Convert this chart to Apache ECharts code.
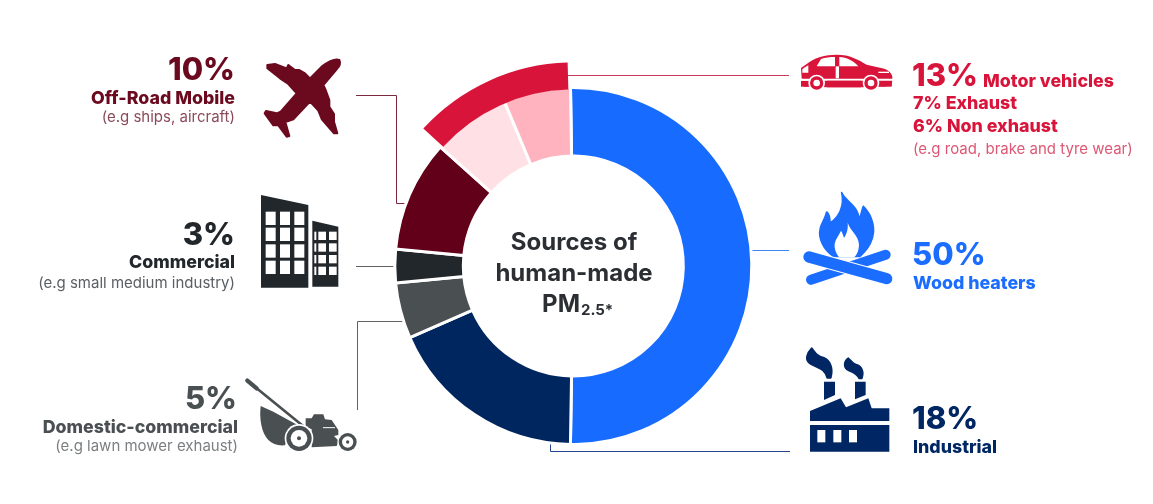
<!DOCTYPE html>
<html>
<head>
<meta charset="utf-8">
<style>html,body{margin:0;padding:0;background:#fff}#chart{width:1153px;height:504px}</style>
<script src="https://cdn.jsdelivr.net/npm/echarts@6/dist/echarts.min.js"></script>
</head>
<body>
<div id="chart"></div>
<script>
// Share of human-made PM2.5, in percent, clockwise from the top of the ring
const sources = ['Wood heaters', 'Industrial', 'Domestic-commercial', 'Commercial', 'Off-Road Mobile', 'Exhaust', 'Non exhaust'];
const shares = [50, 18, 5, 3, 10, 7, 6];
const sliceColors = ['#176cff', '#00265f', '#4a4f52', '#22272b', '#620019', '#ffe0e5', '#ffb3bf'];
const motorVehicles = 13;
const otherSources = 86;

const FONT = 'Inter, "Noto Sans", sans-serif';
const ink = { wood: '#1a6dff', ind: '#002664', car: '#d9143a', carSoft: '#dd5874', off: '#6b0a1f', offSoft: '#8b4a5b',
  com: '#22272b', comSoft: '#5a5f63', dom: '#4a4f52', domSoft: '#7b7f82' };
const BIG = 31, HEAD = 17.8, NOTE = 15;

function label(text, x, y, size, weight, fill, align) {
  return { type: 'text', x, y, silent: true, style: { text, fill, align: align || 'left', verticalAlign: 'middle',
    font: `${weight} ${size}px ${FONT}` } };
}
function leader(points, stroke) {
  return { type: 'polyline', silent: true, shape: { points }, style: { stroke, lineWidth: 1, fill: 'none' } };
}
// Icons are authored at 3x and placed with a translate and a 1/3 scale
function icon(x, y, children) {
  return { type: 'group', x, y, scaleX: 1 / 3, scaleY: 1 / 3, silent: true, children };
}
let shapeCount = 0;
function path(d, fill, outline) {
  const name = 'iconShape' + shapeCount++;
  echarts.graphic.registerShape(name, echarts.graphic.extendPath(d));
  const style = { fill };
  if (outline) {
    style.stroke = fill;
    style.lineWidth = outline;
    style.lineJoin = 'round';
  }
  return { type: name, style };
}
function bar(x, y, w, h, fill) {
  return { type: 'rect', shape: { x, y, width: w, height: h }, style: { fill } };
}
function disc(cx, cy, r, fill) {
  return { type: 'circle', shape: { cx, cy, r }, style: { fill } };
}
function stroke(x1, y1, x2, y2, width, color) {
  return { type: 'line', shape: { x1, y1, x2, y2 }, style: { stroke: color, lineWidth: width, lineCap: 'round' } };
}

const plane = icon(260, 50, [path(
  'M238,30 C243,40 238,50 230,58 L190,105 L197,120 L208,150 L208,170 L222,192 L222,215 L232,250 L222,250 L185,207 L175,182 L150,155 ' +
  'L100,208 L76,216 L88,258 L80,260 L55,226 L40,226 L14,190 L18,183 L50,190 L62,185 L110,130 L85,102 L60,85 L22,55 L22,45 L45,42 L80,55 L85,45 ' +
  'L105,60 L118,60 L135,70 L150,85 L185,50 C205,35 225,25 238,30 Z', ink.off, 6)]);

const buildingWindows = [];
[65, 113, 163, 212].forEach(y => [32, 75, 118].forEach(x => buildingWindows.push(bar(x, y, 30, 40, '#fff'))));
[125, 160, 195, 230].forEach(y => {
  [190, 222].forEach(x => buildingWindows.push(bar(x, y, 23, 25, '#fff')));
  buildingWindows.push(bar(178, y, 6, 25, '#fff'));
});
const building = icon(255, 190, [
  path('M18,15 L160,45 L160,293 L18,293 Z', ink.com),
  path('M172,92 L250,110 L250,290 L172,290 Z', ink.com)
].concat(buildingWindows));

const mower = icon(240, 370, [
  stroke(50, 55, 192, 170, 8, ink.dom),
  stroke(22, 32, 50, 55, 13, ink.dom),
  path('M62,108 L100,125 L185,172 L150,178 L135,226 C95,230 72,205 64,165 C60,145 60,125 62,108 Z', ink.dom),
  path('M197,145 L215,145 L222,133 L250,133 L255,148 L275,150 L295,180 L295,195 L282,198 L296,212 L290,228 L215,232 L215,178 L197,170 Z', ink.dom),
  stroke(250, 173, 284, 173, 3, '#fff'),
  disc(177, 205, 43, '#fff'), disc(177, 205, 38, ink.dom), disc(177, 205, 25, '#fff'), disc(177, 205, 6, ink.dom),
  disc(323, 216, 31, '#fff'), disc(323, 216, 27, ink.dom), disc(323, 216, 17, '#fff'), disc(323, 216, 5, ink.dom)
]);

const car = icon(795, 48, [
  path('M20,92 L18,60 L32,50 C60,28 90,20 125,20 C165,20 190,35 215,50 L268,62 C288,70 294,82 292,95 L290,113 L262,116 L195,118 L100,118 L30,116 L18,112 L18,98 L50,98 Z', ink.car),
  path('M78,33 C90,29 105,27 120,27 L120,55 L65,55 Z', '#fff'),
  path('M133,27 C155,28 175,38 190,55 L133,55 Z', '#fff'),
  bar(122, 55, 10, 36, '#fff'),
  bar(15, 92, 290, 6, '#fff'),
  path('M30,58 L40,52 L40,74 L22,74 L22,64 Z', '#fff'),
  bar(250, 71, 32, 4, '#fff'),
  disc(65, 105, 25, '#fff'), disc(65, 105, 20, ink.car), disc(65, 105, 10, '#fff'),
  disc(228, 105, 25, '#fff'), disc(228, 105, 20, ink.car), disc(228, 105, 10, '#fff'),
  bar(18, 104, 20, 12, ink.car), bar(96, 98, 102, 20, ink.car), bar(260, 100, 30, 16, ink.car)
]);

const fire = icon(795, 188, [
  path('M140,14 C150,40 190,50 192,95 C200,80 200,65 205,55 C235,85 240,125 232,150 C225,175 210,190 195,205 L115,205 C85,185 70,150 75,125 C78,105 90,95 95,72 C105,80 105,95 105,105 C130,90 150,55 140,14 Z', ink.wood, 5),
  path('M158,104 C165,128 191,142 192,170 C192,185 187,198 178,208 L132,208 C122,195 117,180 119,167 C122,152 132,142 138,128 C142,134 145,142 147,150 C155,138 160,122 158,104 Z', '#fff'),
  stroke(48, 275, 272, 200, 30, ink.wood),
  stroke(42, 207, 275, 272, 40, '#fff'),
  stroke(42, 207, 275, 272, 34, ink.wood)
]);

const factory = icon(800, 345, [
  path('M35,10 C20,25 15,45 30,55 C55,70 75,70 82,98 L92,98 C100,70 90,45 70,38 C55,35 50,30 35,10 Z', ink.ind, 6),
  path('M145,40 C130,50 132,70 145,75 C160,82 172,85 178,100 L185,100 C192,80 185,65 170,60 C160,58 155,50 145,40 Z', ink.ind, 6),
  path('M72,110 L105,110 L105,150 L72,165 Z', ink.ind),
  path('M165,110 L197,110 L197,150 L165,163 Z', ink.ind),
  path('M30,198 L122,160 L138,187 L205,160 L215,190 L268,190 L268,228 L30,228 Z', ink.ind),
  bar(30, 240, 238, 80, ink.ind),
  bar(52, 255, 24, 37, '#fff'), bar(100, 255, 24, 37, '#fff'), bar(147, 255, 24, 37, '#fff')
]);

const pct = i => shares[i] + '%';
const graphics = [
  // Leader lines from the ring out to each icon
  leader([[568, 75.5], [789, 75.5]], '#c93a58'),
  leader([[750, 250.5], [789, 250.5]], '#3f86f5'),
  leader([[550.5, 442], [550.5, 451.5], [790, 451.5]], '#24468a'),
  leader([[356, 95.5], [396.5, 95.5], [396.5, 203.5], [406, 203.5]], '#7c2a40'),
  leader([[356, 266.5], [397, 266.5]], '#606366'),
  leader([[357.5, 410], [357.5, 321.5], [405, 321.5]], '#606366'),
  plane, building, mower, car, fire, factory,

  // Ring centre title
  label('Sources of', 574, 242.5, 24, 700, '#2b2f33', 'center'),
  label('human-made', 574, 273.5, 24, 700, '#2b2f33', 'center'),
  label('PM', 580, 304.5, 24, 700, '#2b2f33', 'right'),
  label('2.5*', 581, 310, 15, 700, '#2b2f33', 'left'),

  // Left column
  label(pct(4), 235, 71, BIG, 800, ink.off, 'right'),
  label(sources[4], 235, 98.5, HEAD, 800, ink.off, 'right'),
  label('(e.g ships, aircraft)', 235, 117, NOTE, 400, ink.offSoft, 'right'),
  label(pct(3), 235, 236, BIG, 800, ink.com, 'right'),
  label(sources[3], 235, 262.5, HEAD, 800, ink.com, 'right'),
  label('(e.g small medium industry)', 235, 283, NOTE, 400, ink.comSoft, 'right'),
  label(pct(2), 237, 400, BIG, 800, ink.dom, 'right'),
  label(sources[2], 238, 427.5, HEAD, 800, ink.dom, 'right'),
  label('(e.g lawn mower exhaust)', 238, 446, NOTE, 400, ink.domSoft, 'right'),

  // Right column
  label(motorVehicles + '%', 912, 77, BIG, 800, ink.car),
  label('Motor vehicles', 983, 81.5, HEAD, 800, ink.car),
  label(shares[5] + '% ' + sources[5], 913, 103.5, HEAD, 800, ink.car),
  label(shares[6] + '% ' + sources[6], 913, 126.5, HEAD, 800, ink.car),
  label('(e.g road, brake and tyre wear)', 913, 149, NOTE, 400, ink.carSoft),
  label(pct(0), 912, 256, BIG, 800, ink.wood),
  label(sources[0], 913, 283.5, HEAD, 800, ink.wood),
  label(pct(1), 912, 420, BIG, 800, ink.ind),
  label(sources[1], 913, 447.5, HEAD, 800, ink.ind)
];

const chart = echarts.init(document.getElementById('chart'), null, { renderer: 'canvas' });
chart.setOption({
  animation: false,
  backgroundColor: '#fff',
  series: [
    {
      type: 'pie', silent: true, center: [573.3, 266], radius: [110, 178.5], startAngle: 90.9, clockwise: true,
      label: { show: false }, labelLine: { show: false },
      itemStyle: { borderColor: '#fff', borderWidth: 3 },
      data: sources.map((name, i) => ({ name, value: shares[i], itemStyle: { color: sliceColors[i] } }))
    },
    {
      // Outer band grouping the two motor-vehicle slices
      type: 'pie', silent: true, center: [573.3, 266], radius: [176.5, 203.5], startAngle: 90.9, clockwise: true,
      padAngle: 1.4, label: { show: false }, labelLine: { show: false },
      data: [
        { name: 'Other sources', value: otherSources, itemStyle: { color: 'rgba(0,0,0,0)' } },
        { name: 'Motor vehicles', value: motorVehicles, itemStyle: { color: '#d9143a' } }
      ]
    }
  ],
  graphic: { elements: graphics }
});
</script>
</body>
</html>
